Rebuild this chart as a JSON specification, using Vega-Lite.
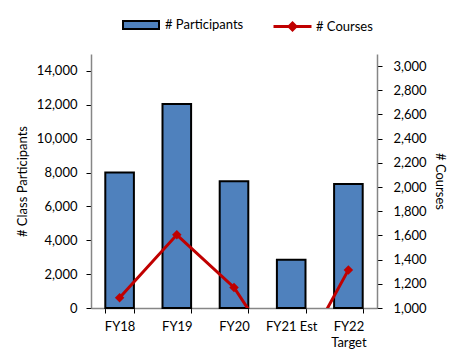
{
  "$schema": "https://vega.github.io/schema/vega-lite/v6.json",
  "width": 286,
  "height": 254,
  "autosize": {"type": "none"},
  "padding": {"left": 91, "top": 54, "right": 72, "bottom": 44},
  "config": {
    "view": {"stroke": null},
    "font": "Lato",
    "axis": {
      "grid": false,
      "domainColor": "#868686",
      "domainWidth": 1.5,
      "tickColor": "#000",
      "tickSize": 5,
      "labelFont": "Lato",
      "titleFont": "Lato",
      "labelFontSize": 13,
      "titleFontSize": 13,
      "labelColor": "#000",
      "titleColor": "#000",
      "titleFontWeight": "normal"
    },
    "legend": {"labelFont": "Lato", "labelFontSize": 13, "labelColor": "#000", "padding": 0}
  },
  "data": {
    "values": [
      {"year": "FY18", "participants": 8000, "courses": 1085},
      {"year": "FY19", "participants": 12050, "courses": 1605},
      {"year": "FY20", "participants": 7480, "courses": 1170},
      {"year": "FY21 Est", "participants": 2850, "courses": 450},
      {"year": "FY22 Target", "participants": 7320, "courses": 1315}
    ]
  },
  "encoding": {
    "x": {
      "field": "year",
      "type": "nominal",
      "sort": null,
      "scale": {"paddingInner": 0.5, "paddingOuter": 0.25},
      "axis": {
        "title": null,
        "labelAngle": 0,
        "tickBand": "extent",
        "labelPadding": 7,
        "labelLineHeight": 16,
        "labelExpr": "datum.value == 'FY22 Target' ? ['FY22', 'Target'] : datum.value"
      }
    }
  },
  "layer": [
    {
      "mark": {"type": "bar", "stroke": "#000", "strokeWidth": 2},
      "encoding": {
        "y": {
          "field": "participants",
          "type": "quantitative",
          "scale": {"domain": [0, 15000], "nice": false},
          "axis": {
            "orient": "left",
            "values": [0, 2000, 4000, 6000, 8000, 10000, 12000, 14000],
            "format": ",.0f",
            "title": "# Class Participants",
            "titleAngle": -90,
            "titleX": -69,
            "titleBaseline": "middle",
            "titleAlign": "center",
            "labelPadding": 9
          }
        },
        "fill": {
          "datum": "# Participants",
          "type": "nominal",
          "scale": {"range": ["#4f81bd"]},
          "legend": {
            "orient": "none",
            "legendX": 31,
            "legendY": -48,
            "title": null,
            "symbolType": "M-1,-0.22H1V0.22H-1Z",
            "symbolSize": 1296,
            "symbolStrokeColor": "#000",
            "symbolStrokeWidth": 2,
            "labelOffset": 5
          }
        }
      }
    },
    {
      "encoding": {
        "y": {
          "field": "courses",
          "type": "quantitative",
          "scale": {"domain": [1000, 3100], "nice": false, "zero": false},
          "axis": {
            "orient": "right",
            "values": [1000, 1200, 1400, 1600, 1800, 2000, 2200, 2400, 2600, 2800, 3000],
            "format": ",.0f",
            "title": "# Courses",
            "titleAngle": 90,
            "titleX": 62,
            "titleBaseline": "middle",
            "titleAlign": "center",
            "labelPadding": 11
          }
        }
      },
      "layer": [
        {
          "mark": {"type": "line", "clip": true, "strokeWidth": 3},
          "encoding": {
            "stroke": {
              "datum": "# Courses",
              "type": "nominal",
              "scale": {"range": ["#c00000"]},
              "legend": {
                "orient": "none",
                "legendX": 181,
                "legendY": -48,
                "title": null,
                "symbolType": "M-1,0H1M0,-0.18L0.18,0L0,0.18L-0.18,0Z",
                "symbolSize": 1444,
                "symbolStrokeWidth": 3,
                "symbolFillColor": "#c00000",
                "labelOffset": 3
              }
            }
          }
        },
        {
          "mark": {"type": "point", "shape": "diamond", "filled": true, "color": "#c00000", "size": 90, "opacity": 1, "clip": true}
        }
      ]
    }
  ],
  "resolve": {"scale": {"y": "independent"}}
}
